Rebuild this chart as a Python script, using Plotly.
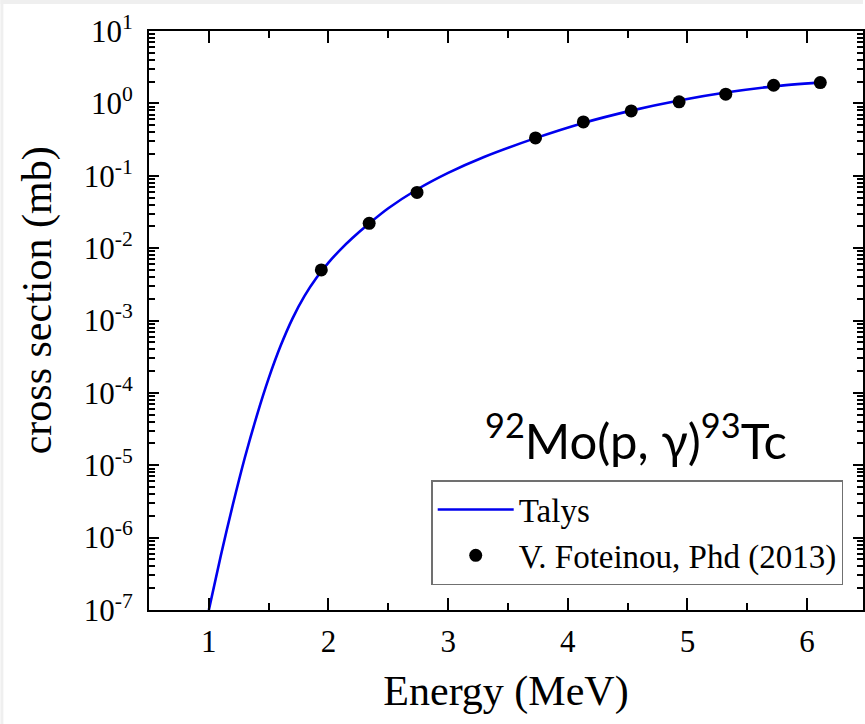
import plotly.graph_objects as go

# Talys calculation (energy in MeV, cross section in mb)
talys_energy = [1.00, 1.10, 1.20, 1.30, 1.40, 1.50, 1.60, 1.70, 1.80, 1.90, 2.00, 2.10,
                2.20, 2.34, 2.50, 2.74, 3.00, 3.30, 3.73, 4.13, 4.53, 4.93, 5.32, 5.72, 6.11]
talys_log_sigma = [-7.00, -6.25, -5.55, -4.90, -4.32, -3.80, -3.35, -2.97, -2.66, -2.41, -2.20, -2.02,
                   -1.86, -1.66, -1.45, -1.19, -0.96, -0.74, -0.48, -0.27, -0.10, 0.04, 0.15, 0.235, 0.29]
talys_sigma = [10 ** v for v in talys_log_sigma]

# V. Foteinou, PhD (2013) data
exp_energy = [1.94, 2.34, 2.74, 3.73, 4.13, 4.53, 4.93, 5.32, 5.72, 6.11]
exp_sigma = [0.0050, 0.0220, 0.0589, 0.333, 0.555, 0.787, 1.05, 1.34, 1.78, 1.94]

x_ticks = [1, 2, 3, 4, 5, 6]
x_minor = [1.5, 2.5, 3.5, 4.5, 5.5]
y_exponents = [-7, -6, -5, -4, -3, -2, -1, 0, 1]
y_tickvals = [10.0 ** e for e in y_exponents]
y_ticktext = ["10<sup>%d</sup>" % e for e in y_exponents]
y_minor = [m * 10.0 ** e for e in y_exponents[:-1] for m in range(2, 10)]

W, H = 865, 724
ML, MR, MT, MB = 149, 0, 31, 114
PW, PH = W - ML - MR, H - MT - MB

serif = "Liberation Serif, Times New Roman, serif"

fig = go.Figure()
fig.add_trace(go.Scatter(x=talys_energy, y=talys_sigma, mode="lines", name="Talys",
                         line=dict(color="#0000ee", width=2.6, shape="spline", smoothing=0.8)))
fig.add_trace(go.Scatter(x=exp_energy, y=exp_sigma, mode="markers", name="V. Foteinou, Phd (2013)",
                         marker=dict(color="black", size=13)))


def px_x(p):
    return (p - ML) / PW


def px_y(p):
    return (H - MB - p) / PH


fig.update_layout(
    width=W, height=H,
    margin=dict(l=ML, r=MR, t=MT, b=MB),
    paper_bgcolor="white", plot_bgcolor="white",
    showlegend=True,
    legend=dict(x=px_x(432), y=px_y(480), xanchor="left", yanchor="top",
                bordercolor="#707070", borderwidth=1.5, bgcolor="white",
                font=dict(family=serif, size=33, color="black"),
                itemwidth=76, tracegroupgap=0),
    font=dict(family=serif, color="black"),
    xaxis=dict(range=[0.5, 6.467], tickvals=x_ticks, ticks="inside", ticklen=12, tickwidth=2,
               tickcolor="black", showline=True, linecolor="black", linewidth=2, mirror="allticks",
               showgrid=False, zeroline=False, tickfont=dict(family=serif, size=31),
               ticklabelstandoff=3,
               minor=dict(tickvals=x_minor, ticks="inside", ticklen=7,
                          tickwidth=2, tickcolor="black", showgrid=False),
               title=dict(text="Energy (MeV)", font=dict(family=serif, size=42), standoff=17)),
    yaxis=dict(type="log", range=[-7, 1], tickvals=y_tickvals, ticktext=y_ticktext,
               ticks="inside", ticklen=10, tickwidth=2, tickcolor="black", showline=True,
               linecolor="black", linewidth=2, mirror="allticks", showgrid=False, zeroline=False,
               tickfont=dict(family=serif, size=31), ticklabelstandoff=8,
               minor=dict(tickvals=y_minor, ticks="inside", ticklen=6, tickwidth=1.5,
                          tickcolor="black", showgrid=False)),
    annotations=[
        dict(text="cross section (mb)", xref="paper", yref="paper", x=px_x(37), y=px_y(300),
             xanchor="center", yanchor="middle",
             textangle=-90, showarrow=False, font=dict(family=serif, size=42, color="black")),
        dict(text="<sup>92</sup>Mo(p, γ)<sup>93</sup>Tc", xref="paper", yref="paper",
             x=px_x(637), y=px_y(436), xanchor="center", yanchor="middle", showarrow=False,
             font=dict(family="Lato, Noto Sans, sans-serif", size=49, color="black")),
    ],
    shapes=[
        dict(type="rect", xref="paper", yref="paper", x0=px_x(0), x1=px_x(W), y0=px_y(4), y1=px_y(0),
             fillcolor="#efefef", line=dict(width=0), layer="below"),
        dict(type="rect", xref="paper", yref="paper", x0=px_x(0), x1=px_x(3), y0=px_y(H), y1=px_y(0),
             fillcolor="#efefef", line=dict(width=0), layer="below"),
    ],
)

fig.write_html("out.html")
